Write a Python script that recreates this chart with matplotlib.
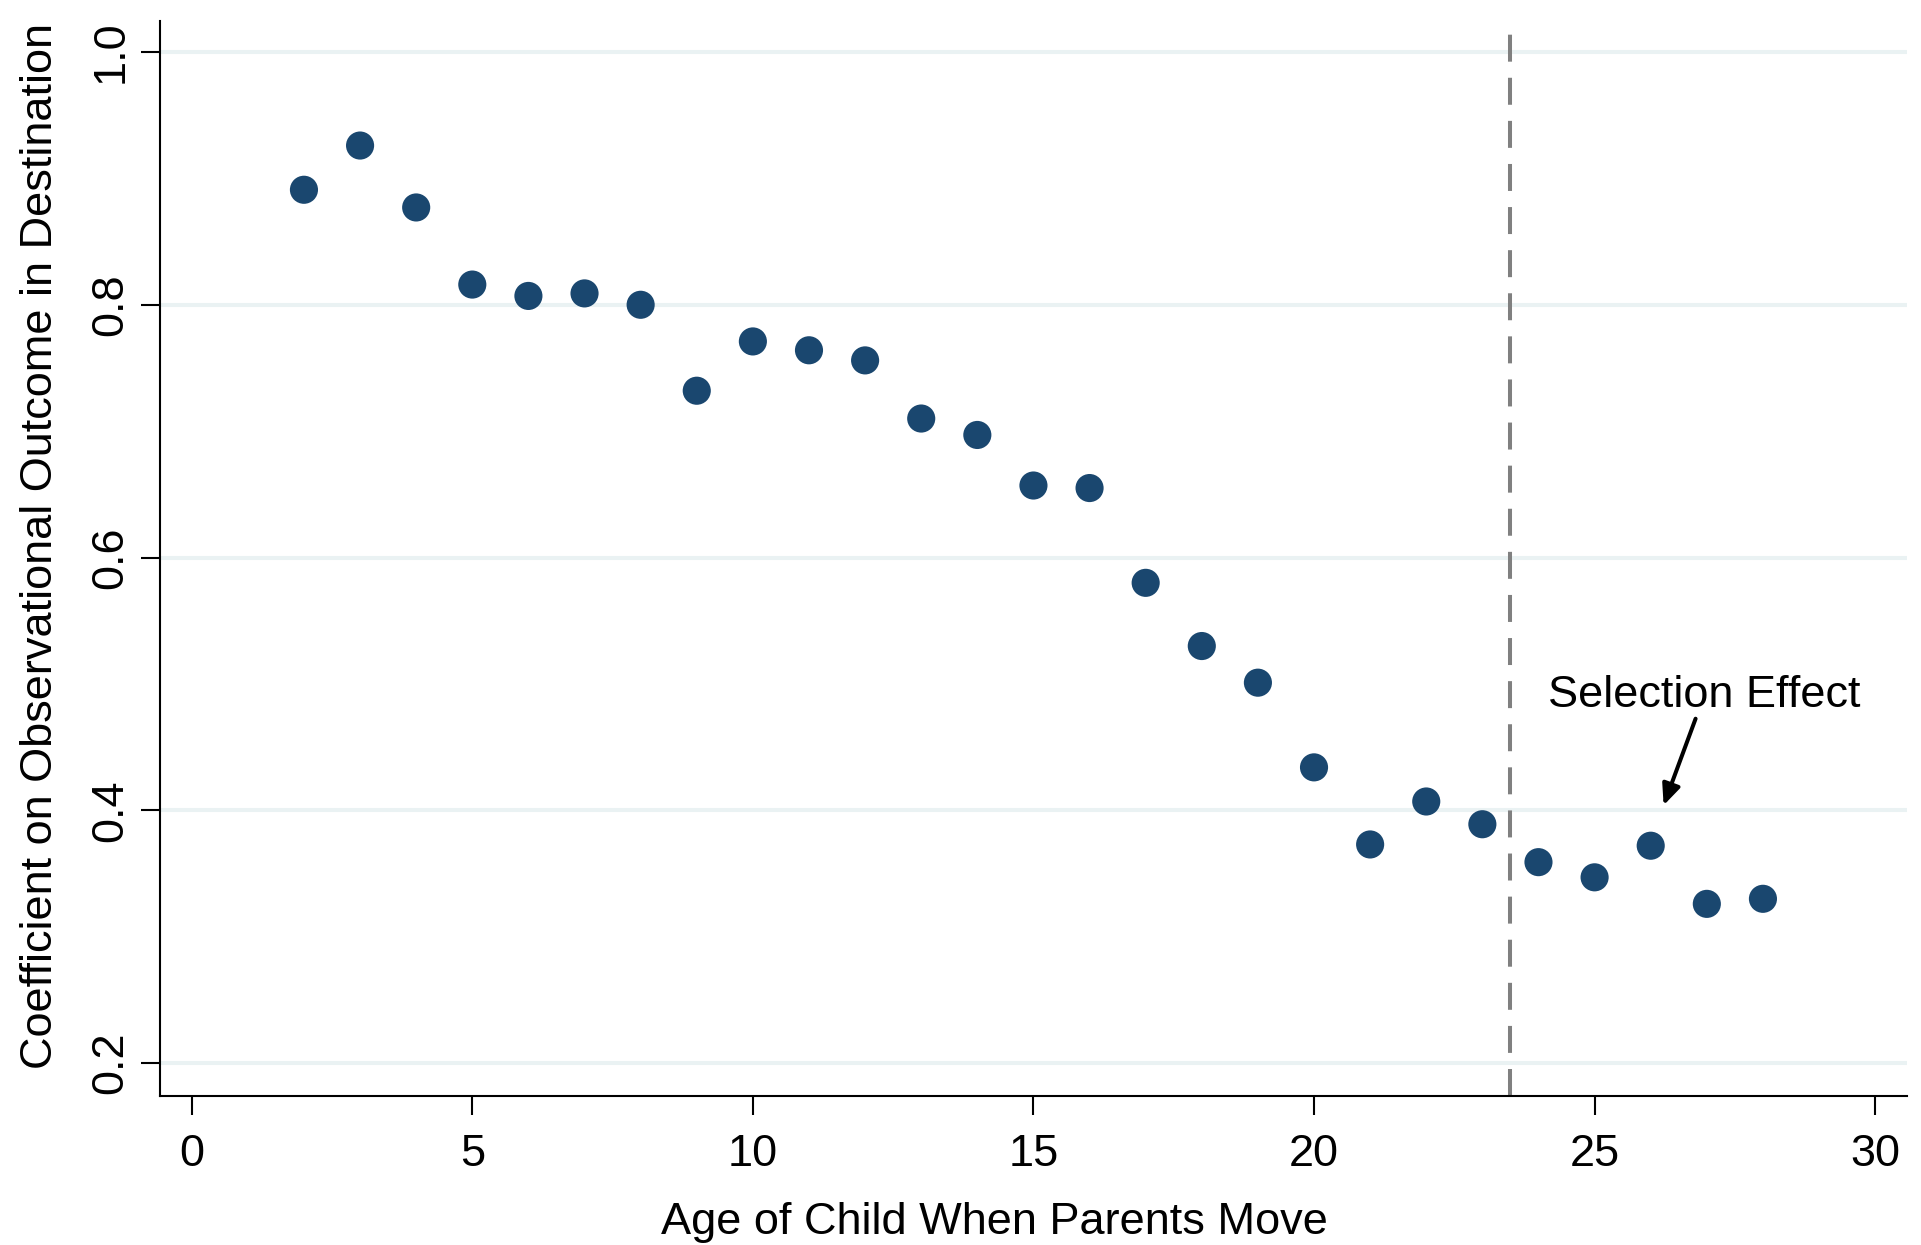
import matplotlib
matplotlib.use("Agg")
import matplotlib.pyplot as plt

plt.rcParams['font.family'] = ['Liberation Sans', 'DejaVu Sans']

ages = [2, 3, 4, 5, 6, 7, 8, 9, 10, 11, 12, 13, 14, 15, 16, 17, 18, 19, 20, 21, 22, 23, 24, 25, 26, 27, 28]
coefs = [0.891, 0.926, 0.877, 0.816, 0.807, 0.809, 0.800, 0.732, 0.771, 0.764, 0.756, 0.710, 0.697,
         0.657, 0.655, 0.580, 0.530, 0.501, 0.434, 0.373, 0.407, 0.389, 0.359, 0.347, 0.372, 0.326, 0.330]
xticks = [0, 5, 10, 15, 20, 25, 30]
yticks = [0.2, 0.4, 0.6, 0.8, 1.0]
ytick_labels = ["0.2", "0.4", "0.6", "0.8", "1.0"]
cutoff_age = 23.5
annot_text = "Selection Effect"
annot_xy = (26.23, 0.404)
annot_text_xy = (26.96, 0.482)
arrow_tail = (26.80, 0.4725)

FS = 32.5

fig = plt.figure(figsize=(19.21, 12.45), dpi=100)
ax = fig.add_axes([0.0833, 0.1197, 0.9092, 0.8634])

for yv in yticks:
    ax.axhline(yv, color='#EAF2F3', lw=2.9, zorder=0)

ax.axvline(cutoff_age, color='#808080', lw=2.9, dashes=(6.7, 4.0), zorder=1)

ax.scatter(ages, coefs, s=410, color='#1A476F', edgecolors='none', zorder=3)

ax.annotate("", xy=annot_xy, xytext=arrow_tail,
            arrowprops=dict(arrowstyle='-|>,head_length=1.25,head_width=0.55', color='black', lw=2.9,
                            shrinkA=0, shrinkB=0))
ax.text(annot_text_xy[0], annot_text_xy[1], annot_text, fontsize=FS, ha='center', va='baseline')

ax.set_xlim(-0.565, 30.56)
ax.set_ylim(0.174, 1.0245)
ax.set_xticks(xticks)
ax.set_xticklabels([str(v) for v in xticks], fontsize=FS)
ax.set_yticks(yticks)
ax.set_yticklabels(ytick_labels, fontsize=FS, rotation=90, va='center')

for s in ['top', 'right']:
    ax.spines[s].set_visible(False)
for s in ['left', 'bottom']:
    ax.spines[s].set_linewidth(1.5)
    ax.spines[s].set_color('black')
ax.tick_params(axis='both', length=13.7, width=1.5, color='black', direction='out')
ax.tick_params(axis='x', pad=14)
ax.tick_params(axis='y', pad=7)

ax.set_xlabel("Age of Child When Parents Move", fontsize=FS, labelpad=19)
ax.set_ylabel("Coefficient on Observational Outcome in Destination", fontsize=FS, labelpad=21)
ax.xaxis.label.set_x(0.4775)
ax.yaxis.label.set_y(0.512)

fig.savefig("out.png", dpi=100, facecolor='white')
